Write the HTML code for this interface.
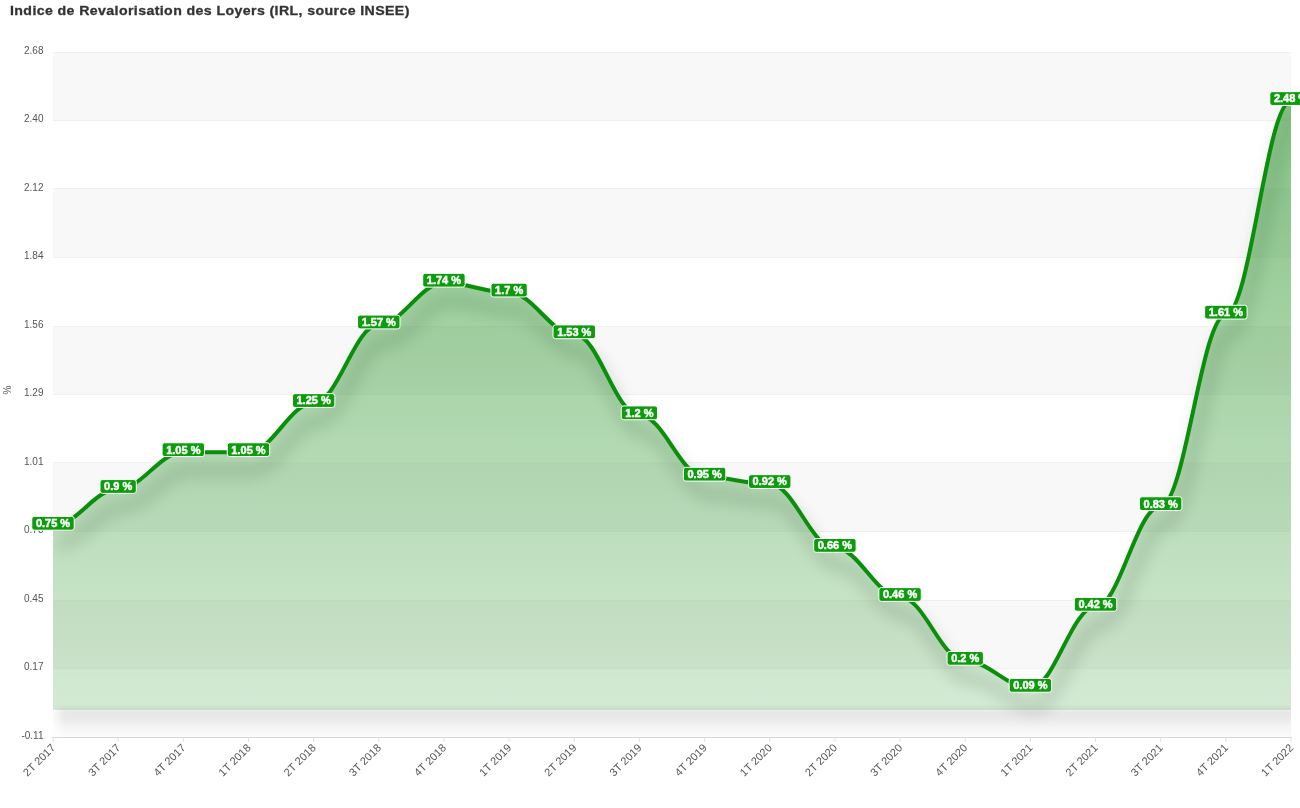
<!DOCTYPE html><html><head><meta charset="utf-8"><style>html,body{margin:0;padding:0;background:#fff;width:1300px;height:808px;overflow:hidden}svg{display:block;opacity:0.999;font-family:"Liberation Sans",sans-serif}</style></head><body>
<svg width="1300" height="808" viewBox="0 0 1300 808">
<defs><linearGradient id="g" x1="0" y1="0" x2="0" y2="1"><stop offset="0" stop-color="rgba(0,128,0,0.48)"/><stop offset="1" stop-color="rgba(0,128,0,0.17)"/></linearGradient>
<clipPath id="pc"><rect x="53.0" y="52.0" width="1238.0" height="685.0"/></clipPath></defs>
<rect width="1300" height="808" fill="#fff"/>
<rect x="53.0" y="52.00" width="1238.0" height="68.50" fill="#f8f8f8"/>
<rect x="53.0" y="189.00" width="1238.0" height="68.50" fill="#f8f8f8"/>
<rect x="53.0" y="326.00" width="1238.0" height="68.50" fill="#f8f8f8"/>
<rect x="53.0" y="463.00" width="1238.0" height="68.50" fill="#f8f8f8"/>
<rect x="53.0" y="600.00" width="1238.0" height="68.50" fill="#f8f8f8"/>
<defs><mask id="gm" maskUnits="userSpaceOnUse" x="0" y="0" width="1300" height="808"><rect width="1300" height="808" fill="#fff"/><path d="M 53.00 525.85 C 77.11 525.85 94.05 489.03 118.16 489.03 C 142.27 489.03 159.21 452.20 183.32 452.20 C 207.42 452.20 224.37 452.20 248.47 452.20 C 272.58 452.20 289.52 403.09 313.63 403.09 C 337.74 403.09 354.68 324.53 378.79 324.53 C 402.90 324.53 419.84 282.79 443.95 282.79 C 468.06 282.79 485.00 292.61 509.11 292.61 C 533.21 292.61 550.15 334.35 574.26 334.35 C 598.37 334.35 615.31 415.37 639.42 415.37 C 663.53 415.37 680.47 476.75 704.58 476.75 C 728.69 476.75 745.63 484.11 769.74 484.11 C 793.85 484.11 810.79 547.95 834.89 547.95 C 859.00 547.95 875.94 597.05 900.05 597.05 C 924.16 597.05 941.10 660.89 965.21 660.89 C 989.32 660.89 1006.26 687.90 1030.37 687.90 C 1054.48 687.90 1071.42 606.87 1095.53 606.87 C 1119.63 606.87 1136.58 506.21 1160.68 506.21 C 1184.79 506.21 1201.73 314.71 1225.84 314.71 C 1249.95 314.71 1266.89 101.10 1291.00 101.10 L 1291.00 709.99 L 53.00 709.99 Z" fill="#fff" fill-opacity="1"/><path d="M 53.00 525.85 C 77.11 525.85 94.05 489.03 118.16 489.03 C 142.27 489.03 159.21 452.20 183.32 452.20 C 207.42 452.20 224.37 452.20 248.47 452.20 C 272.58 452.20 289.52 403.09 313.63 403.09 C 337.74 403.09 354.68 324.53 378.79 324.53 C 402.90 324.53 419.84 282.79 443.95 282.79 C 468.06 282.79 485.00 292.61 509.11 292.61 C 533.21 292.61 550.15 334.35 574.26 334.35 C 598.37 334.35 615.31 415.37 639.42 415.37 C 663.53 415.37 680.47 476.75 704.58 476.75 C 728.69 476.75 745.63 484.11 769.74 484.11 C 793.85 484.11 810.79 547.95 834.89 547.95 C 859.00 547.95 875.94 597.05 900.05 597.05 C 924.16 597.05 941.10 660.89 965.21 660.89 C 989.32 660.89 1006.26 687.90 1030.37 687.90 C 1054.48 687.90 1071.42 606.87 1095.53 606.87 C 1119.63 606.87 1136.58 506.21 1160.68 506.21 C 1184.79 506.21 1201.73 314.71 1225.84 314.71 C 1249.95 314.71 1266.89 101.10 1291.00 101.10 L 1291.00 709.99 L 53.00 709.99 Z" fill="#000" fill-opacity="0.6"/></mask></defs>
<g mask="url(#gm)">
<path d="M 53.0 52.5 H 1291.0" stroke="#f0f0f0" stroke-width="1"/>
<path d="M 53.0 120.5 H 1291.0" stroke="#f0f0f0" stroke-width="1"/>
<path d="M 53.0 188.5 H 1291.0" stroke="#f0f0f0" stroke-width="1"/>
<path d="M 53.0 257.5 H 1291.0" stroke="#f0f0f0" stroke-width="1"/>
<path d="M 53.0 326.5 H 1291.0" stroke="#f0f0f0" stroke-width="1"/>
<path d="M 53.0 394.5 H 1291.0" stroke="#f0f0f0" stroke-width="1"/>
<path d="M 53.0 462.5 H 1291.0" stroke="#f0f0f0" stroke-width="1"/>
<path d="M 53.0 531.5 H 1291.0" stroke="#f0f0f0" stroke-width="1"/>
<path d="M 53.0 600.5 H 1291.0" stroke="#f0f0f0" stroke-width="1"/>
<path d="M 53.0 668.5 H 1291.0" stroke="#f0f0f0" stroke-width="1"/>
</g>
<defs><filter id="sb" x="-10%" y="-10%" width="120%" height="130%"><feGaussianBlur stdDeviation="8"/></filter><filter id="sb2" x="-10%" y="-200%" width="120%" height="500%"><feGaussianBlur stdDeviation="7"/></filter></defs>
<g clip-path="url(#pc)">
<defs><linearGradient id="vg" gradientUnits="userSpaceOnUse" x1="0" y1="704.00" x2="0" y2="737.50"><stop offset="0.0000" stop-color="#000" stop-opacity="0"/><stop offset="0.1910" stop-color="#000" stop-opacity="0.07"/><stop offset="0.2388" stop-color="#000" stop-opacity="0.095"/><stop offset="0.4776" stop-color="#000" stop-opacity="0.08"/><stop offset="0.6866" stop-color="#000" stop-opacity="0.045"/><stop offset="0.8955" stop-color="#000" stop-opacity="0.022"/><stop offset="1.0000" stop-color="#000" stop-opacity="0.012"/></linearGradient>
<linearGradient id="hg" gradientUnits="userSpaceOnUse" x1="53.00" y1="0" x2="65.00" y2="0"><stop offset="0" stop-color="#fff" stop-opacity="0.2"/><stop offset="1" stop-color="#fff" stop-opacity="1"/></linearGradient>
<mask id="bm" maskUnits="userSpaceOnUse" x="0" y="600" width="1300" height="200"><rect x="53.00" y="704.00" width="1238.00" height="33.50" fill="url(#hg)"/></mask></defs>
<rect x="53.00" y="704.00" width="1238.00" height="33.50" fill="url(#vg)" mask="url(#bm)"/>
<g opacity="0.14" filter="url(#sb)"><path d="M 53.00 525.85 C 77.11 525.85 94.05 489.03 118.16 489.03 C 142.27 489.03 159.21 452.20 183.32 452.20 C 207.42 452.20 224.37 452.20 248.47 452.20 C 272.58 452.20 289.52 403.09 313.63 403.09 C 337.74 403.09 354.68 324.53 378.79 324.53 C 402.90 324.53 419.84 282.79 443.95 282.79 C 468.06 282.79 485.00 292.61 509.11 292.61 C 533.21 292.61 550.15 334.35 574.26 334.35 C 598.37 334.35 615.31 415.37 639.42 415.37 C 663.53 415.37 680.47 476.75 704.58 476.75 C 728.69 476.75 745.63 484.11 769.74 484.11 C 793.85 484.11 810.79 547.95 834.89 547.95 C 859.00 547.95 875.94 597.05 900.05 597.05 C 924.16 597.05 941.10 660.89 965.21 660.89 C 989.32 660.89 1006.26 687.90 1030.37 687.90 C 1054.48 687.90 1071.42 606.87 1095.53 606.87 C 1119.63 606.87 1136.58 506.21 1160.68 506.21 C 1184.79 506.21 1201.73 314.71 1225.84 314.71 C 1249.95 314.71 1266.89 101.10 1291.00 101.10" fill="none" stroke="#000" stroke-width="12" stroke-linejoin="round" transform="translate(5,18)"/></g>
<path d="M 53.00 525.85 C 77.11 525.85 94.05 489.03 118.16 489.03 C 142.27 489.03 159.21 452.20 183.32 452.20 C 207.42 452.20 224.37 452.20 248.47 452.20 C 272.58 452.20 289.52 403.09 313.63 403.09 C 337.74 403.09 354.68 324.53 378.79 324.53 C 402.90 324.53 419.84 282.79 443.95 282.79 C 468.06 282.79 485.00 292.61 509.11 292.61 C 533.21 292.61 550.15 334.35 574.26 334.35 C 598.37 334.35 615.31 415.37 639.42 415.37 C 663.53 415.37 680.47 476.75 704.58 476.75 C 728.69 476.75 745.63 484.11 769.74 484.11 C 793.85 484.11 810.79 547.95 834.89 547.95 C 859.00 547.95 875.94 597.05 900.05 597.05 C 924.16 597.05 941.10 660.89 965.21 660.89 C 989.32 660.89 1006.26 687.90 1030.37 687.90 C 1054.48 687.90 1071.42 606.87 1095.53 606.87 C 1119.63 606.87 1136.58 506.21 1160.68 506.21 C 1184.79 506.21 1201.73 314.71 1225.84 314.71 C 1249.95 314.71 1266.89 101.10 1291.00 101.10 L 1291.00 709.99 L 53.00 709.99 Z" fill="url(#g)"/>
<path d="M 53.00 525.85 C 77.11 525.85 94.05 489.03 118.16 489.03 C 142.27 489.03 159.21 452.20 183.32 452.20 C 207.42 452.20 224.37 452.20 248.47 452.20 C 272.58 452.20 289.52 403.09 313.63 403.09 C 337.74 403.09 354.68 324.53 378.79 324.53 C 402.90 324.53 419.84 282.79 443.95 282.79 C 468.06 282.79 485.00 292.61 509.11 292.61 C 533.21 292.61 550.15 334.35 574.26 334.35 C 598.37 334.35 615.31 415.37 639.42 415.37 C 663.53 415.37 680.47 476.75 704.58 476.75 C 728.69 476.75 745.63 484.11 769.74 484.11 C 793.85 484.11 810.79 547.95 834.89 547.95 C 859.00 547.95 875.94 597.05 900.05 597.05 C 924.16 597.05 941.10 660.89 965.21 660.89 C 989.32 660.89 1006.26 687.90 1030.37 687.90 C 1054.48 687.90 1071.42 606.87 1095.53 606.87 C 1119.63 606.87 1136.58 506.21 1160.68 506.21 C 1184.79 506.21 1201.73 314.71 1225.84 314.71 C 1249.95 314.71 1266.89 101.10 1291.00 101.10" fill="none" stroke="#0a8f0a" stroke-width="4" stroke-linejoin="round" stroke-linecap="round"/>
</g>
<path d="M 52.5 737.5 H 1291.5" stroke="#d6d6d6" stroke-width="1"/>
<path d="M 53.0 737.0 V 742.0" stroke="#e0e0e0" stroke-width="1"/>
<text x="56.00" y="748.50" text-anchor="end" transform="rotate(-45 56.00 748.50)" font-size="11" fill="#555">2T 2017</text>
<path d="M 118.2 737.0 V 742.0" stroke="#e0e0e0" stroke-width="1"/>
<text x="121.16" y="748.50" text-anchor="end" transform="rotate(-45 121.16 748.50)" font-size="11" fill="#555">3T 2017</text>
<path d="M 183.3 737.0 V 742.0" stroke="#e0e0e0" stroke-width="1"/>
<text x="186.32" y="748.50" text-anchor="end" transform="rotate(-45 186.32 748.50)" font-size="11" fill="#555">4T 2017</text>
<path d="M 248.5 737.0 V 742.0" stroke="#e0e0e0" stroke-width="1"/>
<text x="251.47" y="748.50" text-anchor="end" transform="rotate(-45 251.47 748.50)" font-size="11" fill="#555">1T 2018</text>
<path d="M 313.6 737.0 V 742.0" stroke="#e0e0e0" stroke-width="1"/>
<text x="316.63" y="748.50" text-anchor="end" transform="rotate(-45 316.63 748.50)" font-size="11" fill="#555">2T 2018</text>
<path d="M 378.8 737.0 V 742.0" stroke="#e0e0e0" stroke-width="1"/>
<text x="381.79" y="748.50" text-anchor="end" transform="rotate(-45 381.79 748.50)" font-size="11" fill="#555">3T 2018</text>
<path d="M 443.9 737.0 V 742.0" stroke="#e0e0e0" stroke-width="1"/>
<text x="446.95" y="748.50" text-anchor="end" transform="rotate(-45 446.95 748.50)" font-size="11" fill="#555">4T 2018</text>
<path d="M 509.1 737.0 V 742.0" stroke="#e0e0e0" stroke-width="1"/>
<text x="512.11" y="748.50" text-anchor="end" transform="rotate(-45 512.11 748.50)" font-size="11" fill="#555">1T 2019</text>
<path d="M 574.3 737.0 V 742.0" stroke="#e0e0e0" stroke-width="1"/>
<text x="577.26" y="748.50" text-anchor="end" transform="rotate(-45 577.26 748.50)" font-size="11" fill="#555">2T 2019</text>
<path d="M 639.4 737.0 V 742.0" stroke="#e0e0e0" stroke-width="1"/>
<text x="642.42" y="748.50" text-anchor="end" transform="rotate(-45 642.42 748.50)" font-size="11" fill="#555">3T 2019</text>
<path d="M 704.6 737.0 V 742.0" stroke="#e0e0e0" stroke-width="1"/>
<text x="707.58" y="748.50" text-anchor="end" transform="rotate(-45 707.58 748.50)" font-size="11" fill="#555">4T 2019</text>
<path d="M 769.7 737.0 V 742.0" stroke="#e0e0e0" stroke-width="1"/>
<text x="772.74" y="748.50" text-anchor="end" transform="rotate(-45 772.74 748.50)" font-size="11" fill="#555">1T 2020</text>
<path d="M 834.9 737.0 V 742.0" stroke="#e0e0e0" stroke-width="1"/>
<text x="837.89" y="748.50" text-anchor="end" transform="rotate(-45 837.89 748.50)" font-size="11" fill="#555">2T 2020</text>
<path d="M 900.1 737.0 V 742.0" stroke="#e0e0e0" stroke-width="1"/>
<text x="903.05" y="748.50" text-anchor="end" transform="rotate(-45 903.05 748.50)" font-size="11" fill="#555">3T 2020</text>
<path d="M 965.2 737.0 V 742.0" stroke="#e0e0e0" stroke-width="1"/>
<text x="968.21" y="748.50" text-anchor="end" transform="rotate(-45 968.21 748.50)" font-size="11" fill="#555">4T 2020</text>
<path d="M 1030.4 737.0 V 742.0" stroke="#e0e0e0" stroke-width="1"/>
<text x="1033.37" y="748.50" text-anchor="end" transform="rotate(-45 1033.37 748.50)" font-size="11" fill="#555">1T 2021</text>
<path d="M 1095.5 737.0 V 742.0" stroke="#e0e0e0" stroke-width="1"/>
<text x="1098.53" y="748.50" text-anchor="end" transform="rotate(-45 1098.53 748.50)" font-size="11" fill="#555">2T 2021</text>
<path d="M 1160.7 737.0 V 742.0" stroke="#e0e0e0" stroke-width="1"/>
<text x="1163.68" y="748.50" text-anchor="end" transform="rotate(-45 1163.68 748.50)" font-size="11" fill="#555">3T 2021</text>
<path d="M 1225.8 737.0 V 742.0" stroke="#e0e0e0" stroke-width="1"/>
<text x="1228.84" y="748.50" text-anchor="end" transform="rotate(-45 1228.84 748.50)" font-size="11" fill="#555">4T 2021</text>
<path d="M 1291.0 737.0 V 742.0" stroke="#e0e0e0" stroke-width="1"/>
<text x="1294.00" y="748.50" text-anchor="end" transform="rotate(-45 1294.00 748.50)" font-size="11" fill="#555">1T 2022</text>
<text x="43.5" y="53.80" text-anchor="end" font-size="10" fill="#555">2.68</text>
<text x="43.5" y="122.30" text-anchor="end" font-size="10" fill="#555">2.40</text>
<text x="43.5" y="190.80" text-anchor="end" font-size="10" fill="#555">2.12</text>
<text x="43.5" y="259.30" text-anchor="end" font-size="10" fill="#555">1.84</text>
<text x="43.5" y="327.80" text-anchor="end" font-size="10" fill="#555">1.56</text>
<text x="43.5" y="396.30" text-anchor="end" font-size="10" fill="#555">1.29</text>
<text x="43.5" y="464.80" text-anchor="end" font-size="10" fill="#555">1.01</text>
<text x="43.5" y="533.30" text-anchor="end" font-size="10" fill="#555">0.73</text>
<text x="43.5" y="601.80" text-anchor="end" font-size="10" fill="#555">0.45</text>
<text x="43.5" y="670.30" text-anchor="end" font-size="10" fill="#555">0.17</text>
<text x="43.5" y="738.80" text-anchor="end" font-size="10" fill="#555">-0.11</text>
<text x="11.0" y="390.0" text-anchor="middle" font-size="10" fill="#555" transform="rotate(-90 11.0 390.0)">%</text>
<text transform="translate(10.00 15.00) scale(1.09 1)" x="0" y="0" font-size="13" font-weight="bold" letter-spacing="0.36" fill="#333" stroke="#333" stroke-width="0.3">Indice de Revalorisation des Loyers (IRL, source INSEE)</text>
<g class="dl" data-i="0">
<rect x="31.78" y="516.40" width="42.45" height="13.80" rx="2.5" fill="#0e9c0e" stroke="#fff" stroke-width="1"/>
<text x="53.00" y="527.15" text-anchor="middle" font-size="11" font-weight="bold" fill="#fff" stroke="#fff" stroke-width="0.45">0.75 %</text>
</g>
<g class="dl" data-i="1">
<rect x="99.99" y="479.58" width="36.33" height="13.80" rx="2.5" fill="#0e9c0e" stroke="#fff" stroke-width="1"/>
<text x="118.16" y="490.33" text-anchor="middle" font-size="11" font-weight="bold" fill="#fff" stroke="#fff" stroke-width="0.45">0.9 %</text>
</g>
<g class="dl" data-i="2">
<rect x="162.09" y="442.75" width="42.45" height="13.80" rx="2.5" fill="#0e9c0e" stroke="#fff" stroke-width="1"/>
<text x="183.32" y="453.50" text-anchor="middle" font-size="11" font-weight="bold" fill="#fff" stroke="#fff" stroke-width="0.45">1.05 %</text>
</g>
<g class="dl" data-i="3">
<rect x="227.25" y="442.75" width="42.45" height="13.80" rx="2.5" fill="#0e9c0e" stroke="#fff" stroke-width="1"/>
<text x="248.47" y="453.50" text-anchor="middle" font-size="11" font-weight="bold" fill="#fff" stroke="#fff" stroke-width="0.45">1.05 %</text>
</g>
<g class="dl" data-i="4">
<rect x="292.41" y="393.64" width="42.45" height="13.80" rx="2.5" fill="#0e9c0e" stroke="#fff" stroke-width="1"/>
<text x="313.63" y="404.39" text-anchor="middle" font-size="11" font-weight="bold" fill="#fff" stroke="#fff" stroke-width="0.45">1.25 %</text>
</g>
<g class="dl" data-i="5">
<rect x="357.57" y="315.08" width="42.45" height="13.80" rx="2.5" fill="#0e9c0e" stroke="#fff" stroke-width="1"/>
<text x="378.79" y="325.83" text-anchor="middle" font-size="11" font-weight="bold" fill="#fff" stroke="#fff" stroke-width="0.45">1.57 %</text>
</g>
<g class="dl" data-i="6">
<rect x="422.72" y="273.34" width="42.45" height="13.80" rx="2.5" fill="#0e9c0e" stroke="#fff" stroke-width="1"/>
<text x="443.95" y="284.09" text-anchor="middle" font-size="11" font-weight="bold" fill="#fff" stroke="#fff" stroke-width="0.45">1.74 %</text>
</g>
<g class="dl" data-i="7">
<rect x="490.94" y="283.16" width="36.33" height="13.80" rx="2.5" fill="#0e9c0e" stroke="#fff" stroke-width="1"/>
<text x="509.11" y="293.91" text-anchor="middle" font-size="11" font-weight="bold" fill="#fff" stroke="#fff" stroke-width="0.45">1.7 %</text>
</g>
<g class="dl" data-i="8">
<rect x="553.04" y="324.90" width="42.45" height="13.80" rx="2.5" fill="#0e9c0e" stroke="#fff" stroke-width="1"/>
<text x="574.26" y="335.65" text-anchor="middle" font-size="11" font-weight="bold" fill="#fff" stroke="#fff" stroke-width="0.45">1.53 %</text>
</g>
<g class="dl" data-i="9">
<rect x="621.26" y="405.92" width="36.33" height="13.80" rx="2.5" fill="#0e9c0e" stroke="#fff" stroke-width="1"/>
<text x="639.42" y="416.67" text-anchor="middle" font-size="11" font-weight="bold" fill="#fff" stroke="#fff" stroke-width="0.45">1.2 %</text>
</g>
<g class="dl" data-i="10">
<rect x="683.36" y="467.30" width="42.45" height="13.80" rx="2.5" fill="#0e9c0e" stroke="#fff" stroke-width="1"/>
<text x="704.58" y="478.05" text-anchor="middle" font-size="11" font-weight="bold" fill="#fff" stroke="#fff" stroke-width="0.45">0.95 %</text>
</g>
<g class="dl" data-i="11">
<rect x="748.51" y="474.66" width="42.45" height="13.80" rx="2.5" fill="#0e9c0e" stroke="#fff" stroke-width="1"/>
<text x="769.74" y="485.41" text-anchor="middle" font-size="11" font-weight="bold" fill="#fff" stroke="#fff" stroke-width="0.45">0.92 %</text>
</g>
<g class="dl" data-i="12">
<rect x="813.67" y="538.50" width="42.45" height="13.80" rx="2.5" fill="#0e9c0e" stroke="#fff" stroke-width="1"/>
<text x="834.89" y="549.25" text-anchor="middle" font-size="11" font-weight="bold" fill="#fff" stroke="#fff" stroke-width="0.45">0.66 %</text>
</g>
<g class="dl" data-i="13">
<rect x="878.83" y="587.60" width="42.45" height="13.80" rx="2.5" fill="#0e9c0e" stroke="#fff" stroke-width="1"/>
<text x="900.05" y="598.35" text-anchor="middle" font-size="11" font-weight="bold" fill="#fff" stroke="#fff" stroke-width="0.45">0.46 %</text>
</g>
<g class="dl" data-i="14">
<rect x="947.05" y="651.44" width="36.33" height="13.80" rx="2.5" fill="#0e9c0e" stroke="#fff" stroke-width="1"/>
<text x="965.21" y="662.19" text-anchor="middle" font-size="11" font-weight="bold" fill="#fff" stroke="#fff" stroke-width="0.45">0.2 %</text>
</g>
<g class="dl" data-i="15">
<rect x="1009.15" y="678.45" width="42.45" height="13.80" rx="2.5" fill="#0e9c0e" stroke="#fff" stroke-width="1"/>
<text x="1030.37" y="689.20" text-anchor="middle" font-size="11" font-weight="bold" fill="#fff" stroke="#fff" stroke-width="0.45">0.09 %</text>
</g>
<g class="dl" data-i="16">
<rect x="1074.30" y="597.42" width="42.45" height="13.80" rx="2.5" fill="#0e9c0e" stroke="#fff" stroke-width="1"/>
<text x="1095.53" y="608.17" text-anchor="middle" font-size="11" font-weight="bold" fill="#fff" stroke="#fff" stroke-width="0.45">0.42 %</text>
</g>
<g class="dl" data-i="17">
<rect x="1139.46" y="496.76" width="42.45" height="13.80" rx="2.5" fill="#0e9c0e" stroke="#fff" stroke-width="1"/>
<text x="1160.68" y="507.51" text-anchor="middle" font-size="11" font-weight="bold" fill="#fff" stroke="#fff" stroke-width="0.45">0.83 %</text>
</g>
<g class="dl" data-i="18">
<rect x="1204.62" y="305.26" width="42.45" height="13.80" rx="2.5" fill="#0e9c0e" stroke="#fff" stroke-width="1"/>
<text x="1225.84" y="316.01" text-anchor="middle" font-size="11" font-weight="bold" fill="#fff" stroke="#fff" stroke-width="0.45">1.61 %</text>
</g>
<g class="dl" data-i="19">
<rect x="1269.78" y="91.65" width="42.45" height="13.80" rx="2.5" fill="#0e9c0e" stroke="#fff" stroke-width="1"/>
<text x="1291.00" y="102.40" text-anchor="middle" font-size="11" font-weight="bold" fill="#fff" stroke="#fff" stroke-width="0.45">2.48 %</text>
</g>
</svg>
</body></html>
